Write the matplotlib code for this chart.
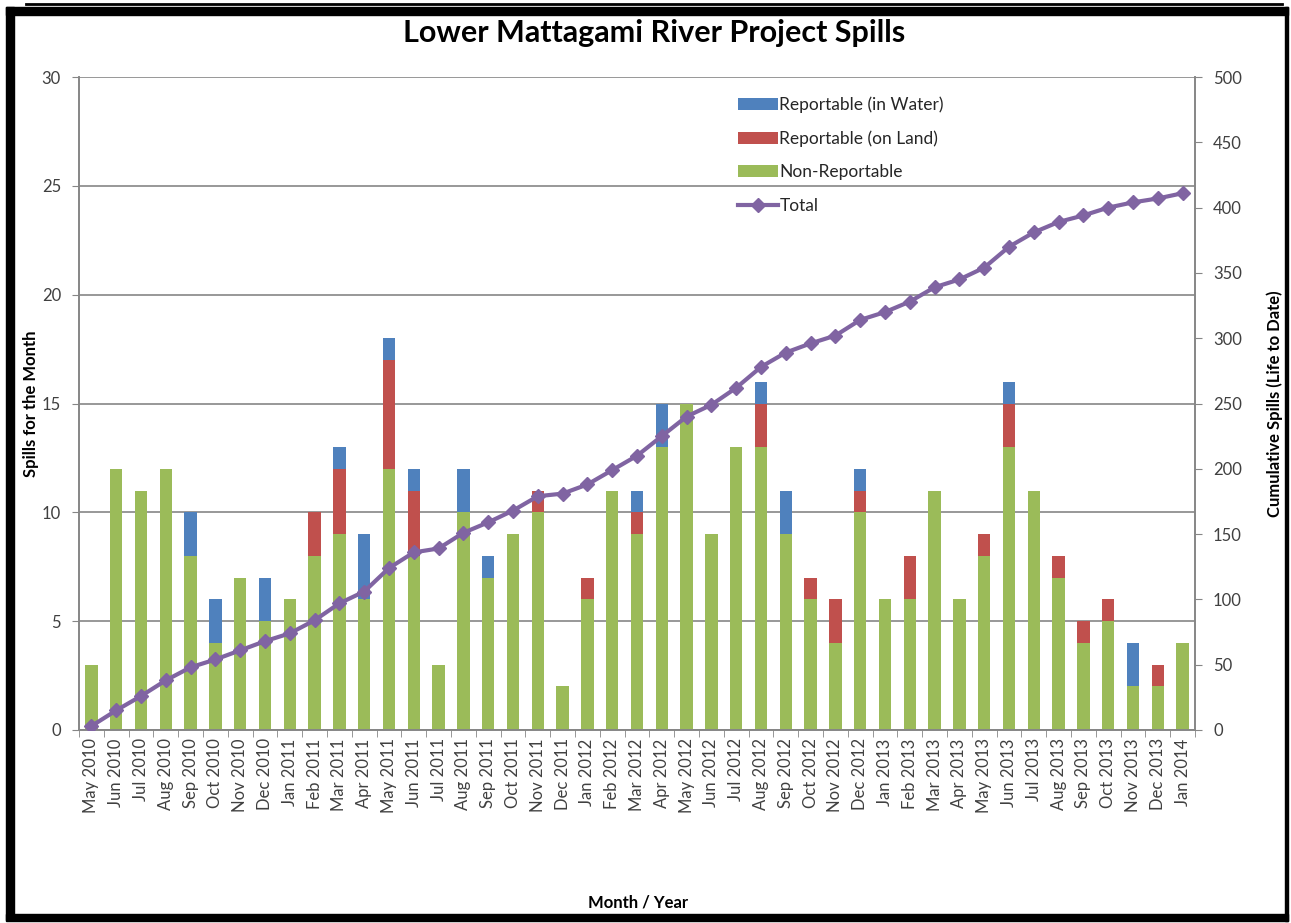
import numpy as np
import matplotlib
matplotlib.use("Agg")
import matplotlib.pyplot as plt
from matplotlib.lines import Line2D
from matplotlib.patches import Rectangle

plt.rcParams['font.family'] = ['Lato', 'DejaVu Sans']

# Months shown on the x axis
mois = ["May 2010", "Jun 2010", "Jul 2010", "Aug 2010", "Sep 2010", "Oct 2010", "Nov 2010", "Dec 2010",
        "Jan 2011", "Feb 2011", "Mar 2011", "Apr 2011", "May 2011", "Jun 2011", "Jul 2011", "Aug 2011",
        "Sep 2011", "Oct 2011", "Nov 2011", "Dec 2011",
        "Jan 2012", "Feb 2012", "Mar 2012", "Apr 2012", "May 2012", "Jun 2012", "Jul 2012", "Aug 2012",
        "Sep 2012", "Oct 2012", "Nov 2012", "Dec 2012",
        "Jan 2013", "Feb 2013", "Mar 2013", "Apr 2013", "May 2013", "Jun 2013", "Jul 2013", "Aug 2013",
        "Sep 2013", "Oct 2013", "Nov 2013", "Dec 2013", "Jan 2014"]

non_reportable = [3, 12, 11, 12, 8, 4, 7, 5,
                  6, 8, 9, 6, 12, 8, 3, 10, 7, 9, 10, 2,
                  6, 11, 9, 13, 15, 9, 13, 13, 9, 6, 4, 10,
                  6, 6, 11, 6, 8, 13, 11, 7, 4, 5, 2, 2, 4]
on_land = [0, 0, 0, 0, 0, 0, 0, 0,
           0, 2, 3, 0, 5, 3, 0, 0, 0, 0, 1, 0,
           1, 0, 1, 0, 0, 0, 0, 2, 0, 1, 2, 1,
           0, 2, 0, 0, 1, 2, 0, 1, 1, 1, 0, 1, 0]
in_water = [0, 0, 0, 0, 2, 2, 0, 2,
            0, 0, 1, 3, 1, 1, 0, 2, 1, 0, 0, 0,
            0, 0, 1, 2, 0, 0, 0, 1, 2, 0, 0, 1,
            0, 0, 0, 0, 0, 1, 0, 0, 0, 0, 2, 0, 0]
cumul = [3, 15, 26, 38, 48, 54, 61, 68,
         74, 84, 97, 106, 124, 136, 139, 151, 159, 168, 179, 181,
         188, 199, 210, 225, 240, 249, 262, 278, 289, 296, 302, 314,
         320, 328, 339, 345, 354, 370, 381, 389, 394, 400, 404, 407, 411]

BLEU = "#4F81BD"
ROUGE = "#C0504D"
VERT = "#9BBB59"
VIOLET = "#8064A2"
GRIS = "#868686"
TEXTE = "#404040"

fig = plt.figure(figsize=(12.91, 9.23), dpi=100)
W, H = 1291, 923
ax = fig.add_axes([79 / W, 1 - 730 / H, (1195 - 79) / W, (730 - 77) / H])
ax2 = ax.twinx()

x = np.arange(len(mois))
nr = np.array(non_reportable)
ol = np.array(on_land)
iw = np.array(in_water)

ax.bar(x, nr, width=0.5, color=VERT, label="Non-Reportable", zorder=2)
ax.bar(x, ol, width=0.5, bottom=nr, color=ROUGE, label="Reportable (on Land)", zorder=2)
ax.bar(x, iw, width=0.5, bottom=nr + ol, color=BLEU, label="Reportable (in Water)", zorder=2)

ax2.plot(x, cumul, color=VIOLET, lw=3, marker="D", markersize=7, label="Total", zorder=3)

ax.set_xlim(-0.5, len(mois) - 0.5)
ax.set_ylim(0, 30)
ax2.set_ylim(0, 500)
ax.set_yticks(range(0, 31, 5))
ax2.set_yticks(range(0, 501, 50))
ax.grid(axis="y", color=GRIS, lw=1.2, zorder=0)
ax.set_axisbelow(True)

ax.set_xticks(x)
ax.set_xticklabels(mois, rotation=90, fontsize=12, color=TEXTE)
ax.set_xticks(np.arange(-0.5, len(mois), 1), minor=True)
ax.tick_params(axis="x", which="major", length=0, pad=6)
ax.tick_params(axis="x", which="minor", length=5, color=GRIS)
ax.tick_params(axis="y", length=5, color=GRIS, labelsize=12, labelcolor=TEXTE, pad=8)
ax2.tick_params(axis="y", length=5, color=GRIS, labelsize=12, labelcolor=TEXTE, pad=8)

for a in (ax, ax2):
    a.spines["top"].set_visible(False)
    for s in ("left", "right", "bottom"):
        a.spines[s].set_color(GRIS)
        a.spines[s].set_linewidth(1.2)

ax.set_ylabel("Spills for the Month", fontsize=12, fontweight="bold")
ax.yaxis.set_label_coords((39 - 79) / 1116, 0.5)
ax2.set_ylabel("Cumulative Spills (Life to Date)", fontsize=12, fontweight="bold")
ax2.yaxis.set_label_coords((1266 - 79) / 1116, 0.5)
fig.text(638 / W, 1 - 902 / H, "Month / Year", fontsize=12, fontweight="bold", ha="center", va="center")
fig.text(654 / W, 1 - 33 / H, "Lower Mattagami River Project Spills", fontsize=22, fontweight="bold",
         ha="center", va="center")

# Legende
h1, l1 = ax.get_legend_handles_labels()
h2, l2 = ax2.get_legend_handles_labels()
handles = [h1[2], h1[1], h1[0], h2[0]]
labels = [l1[2], l1[1], l1[0], l2[0]]
leg = ax2.legend(handles, labels, loc="upper left", bbox_to_anchor=(643 / 1116, 1 - 4 / 653),
                 frameon=False, fontsize=12.5, labelspacing=1.0, handlelength=2.3, handletextpad=0.1,
                 handleheight=0.7)
for t in leg.get_texts():
    t.set_color("#262626")

# Cadre noir autour de l'image
fig.patches.append(Rectangle((6 / W, 1 - 920 / H), 8 / W, 913 / H, transform=fig.transFigure,
                             color="black", zorder=10))
fig.patches.append(Rectangle((6 / W, 1 - 15 / H), (1288 - 6) / W, 8 / H, transform=fig.transFigure,
                             color="black", zorder=10))
fig.patches.append(Rectangle((6 / W, 1 - 921 / H), (1288 - 6) / W, 7 / H, transform=fig.transFigure,
                             color="black", zorder=10))
fig.patches.append(Rectangle((1285 / W, 1 - 921 / H), 3 / W, 914 / H, transform=fig.transFigure,
                             color="black", zorder=10))
fig.lines.append(Line2D([26 / W, 1282 / W], [1 - 3.5 / H, 1 - 3.5 / H], transform=fig.transFigure,
                        color="black", lw=2))

fig.savefig("out.png", dpi=100)
